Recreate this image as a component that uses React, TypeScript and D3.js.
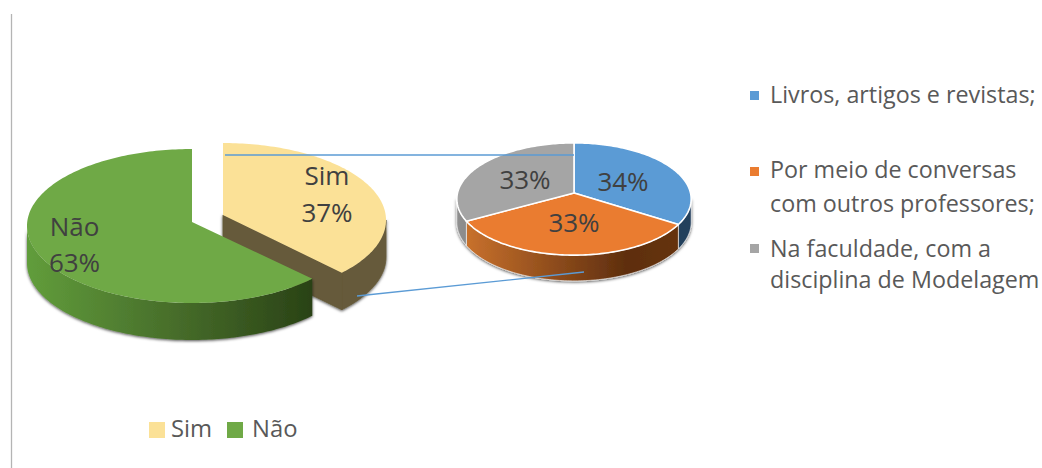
import React from "react";
import * as d3 from "d3";

// Main pie: did the teacher hear about the subject?
const mainCategories = ["Sim", "Não"];
const mainValues = [37, 63];
const mainColors = ["#fbe197", "#6fa946"];

// Breakdown of the "Sim" answers
const detailCategories = [
  "Livros, artigos e revistas;",
  "Por meio de conversas com outros professores;",
  "Na faculdade, com a disciplina de Modelagem",
];
const detailValues = [34, 33, 33];
const detailColors = ["#5b9bd5", "#ea7c30", "#a5a5a5"];

const detailLegendLines = [
  ["Livros, artigos e revistas;"],
  ["Por meio de conversas", "com outros professores;"],
  ["Na faculdade, com a", "disciplina de Modelagem"],
];

const FONT = "'Open Sans', 'Noto Sans', sans-serif";
const TAU = Math.PI * 2;

type Disc = { cx: number; cy: number; a: number; b: number; k: number; depth: number; apexY: number };
type P = [number, number];

// Perspective projection of a tilted disc: theta runs clockwise from 12 o'clock.
const project = (d: Disc, theta: number, drop = 0): P => {
  const u = Math.sin(theta);
  const v = -Math.cos(theta);
  const w = 1 - d.k * v;
  return [d.cx + (d.a * u) / w, d.cy + (d.b * v) / w + drop / w];
};

const sampleAngles = (from: number, to: number) => {
  const n = Math.max(2, Math.ceil(Math.abs(to - from) / 0.02));
  return d3.range(n + 1).map((i) => from + ((to - from) * i) / n);
};

const line = d3.line<P>();

const topPath = (d: Disc, a0: number, a1: number) =>
  line([[d.cx, d.apexY], ...sampleAngles(a0, a1).map((t) => project(d, t))]) + "Z";

// Outer rim of a slice, limited to the part that faces the viewer.
const wallPath = (d: Disc, a0: number, a1: number) => {
  const edge = Math.acos(-d.k);
  const from = Math.max(a0, edge);
  const to = Math.min(a1, TAU - edge);
  if (to <= from) return null;
  const angles = sampleAngles(from, to);
  return (
    line([
      ...angles.map((t) => project(d, t)),
      ...angles.slice().reverse().map((t) => project(d, t, d.depth)),
    ]) + "Z"
  );
};

const pieAngles = d3.pie<number>().sort(null);
const mainArcs = pieAngles(mainValues);
const detailArcs = pieAngles(detailValues);

const simDisc: Disc = { cx: 223, cy: 220, apexY: 215, a: 163, b: 77, k: 0, depth: 37 };
const naoDisc: Disc = { cx: 192, cy: 226, apexY: 222, a: 165, b: 77, k: 0, depth: 37 };
const detailDisc: Disc = { cx: 574, cy: 193, apexY: 193, a: 116.5, b: 55.5, k: 0.107, depth: 23 };

const simArc = mainArcs[0];
const naoArc = mainArcs[1];
const simTip = project(simDisc, simArc.endAngle);
const simTipLow = project(simDisc, simArc.endAngle, simDisc.depth);
const simApexLow: P = [simDisc.cx, simDisc.apexY + simDisc.depth];
const simBack = project(simDisc, 0, simDisc.depth);
const naoBack = project(naoDisc, TAU, naoDisc.depth);

const detailWallFill = ["#24405c", "url(#orangeWall)", "url(#grayWall)"];

const leaderLines: [P, P][] = [
  [[225, 155], [574, 155]],
  [[357, 296], [584, 272]],
];

const mainLabels = [
  { lines: ["Sim", "37%"], x: 327, y: [185, 222] },
  { lines: ["Não", "63%"], x: 74.5, y: [236, 272] },
];
const detailLabelPos: P[] = [
  [623, 191],
  [574, 232],
  [525, 189],
];

const legendBaselines = [[103], [178, 212], [257, 288]];
const legendSwatchY = [91, 167, 244];

export default function App() {
  return (
    <svg
      width={1042}
      height={468}
      viewBox="0 0 1042 468"
      style={{ position: "absolute", left: 0, top: 0, background: "#fff" }}
    >
      <defs>
        <filter id="pieShadow" x="-10%" y="-10%" width="120%" height="125%">
          <feDropShadow dx={0} dy={1} stdDeviation={1.5} floodColor="#000" floodOpacity={0.7} />
        </filter>
        <filter id="soft" x="-200%" y="-10%" width="500%" height="120%">
          <feGaussianBlur stdDeviation={0.8} />
        </filter>
        <linearGradient id="greenWall" gradientUnits="userSpaceOnUse" x1={27} x2={310} y1={0} y2={0}>
          <stop offset="0" stopColor="#619d3b" />
          <stop offset="0.5" stopColor="#486f2b" />
          <stop offset="1" stopColor="#2a4316" />
        </linearGradient>
        <linearGradient id="orangeWall" gradientUnits="userSpaceOnUse" x1={468} x2={680} y1={0} y2={0}>
          <stop offset="0" stopColor="#c7702c" />
          <stop offset="0.75" stopColor="#5e2e0e" />
          <stop offset="1" stopColor="#66330f" />
        </linearGradient>
        <linearGradient id="grayWall" gradientUnits="userSpaceOnUse" x1={457} x2={468} y1={0} y2={0}>
          <stop offset="0" stopColor="#8f8f8f" />
          <stop offset="1" stopColor="#8a8a8a" />
        </linearGradient>
      </defs>

      <line x1={11.5} x2={11.5} y1={14} y2={468} stroke="#b4b4b4" strokeWidth={1.3} />

      {/* Exploded "Sim" slice, behind the larger slice */}
      <line
        x1={simDisc.cx - 2}
        x2={simDisc.cx - 2}
        y1={simBack[1] - 6}
        y2={simApexLow[1]}
        stroke="#555"
        strokeWidth={2}
        filter="url(#soft)"
      />
      <g filter="url(#pieShadow)" stroke="#665a3a" strokeWidth={0.8} strokeLinejoin="round">
        <path d={line([[simDisc.cx, simDisc.apexY], simTip, simTipLow, simApexLow]) + "Z"} fill="#665a3a" />
        <path d={wallPath(simDisc, simArc.startAngle, simArc.endAngle) ?? ""} fill="#665a3a" />
      </g>
      <path d={topPath(simDisc, simArc.startAngle, simArc.endAngle)} fill={mainColors[0]} />

      {/* "Não" slice */}
      <line
        x1={naoDisc.cx + 2.5}
        x2={naoDisc.cx + 2.5}
        y1={naoBack[1] - 5}
        y2={naoDisc.apexY}
        stroke="#555"
        strokeWidth={2}
        filter="url(#soft)"
      />
      <path
        d={wallPath(naoDisc, naoArc.startAngle, naoArc.endAngle) ?? ""}
        fill="url(#greenWall)"
        filter="url(#pieShadow)"
      />
      <path d={topPath(naoDisc, naoArc.startAngle, naoArc.endAngle)} fill={mainColors[1]} />

      {/* Breakdown pie */}
      <g filter="url(#pieShadow)">
        {detailArcs.map((arc, i) => {
          const d = wallPath(detailDisc, arc.startAngle, arc.endAngle);
          return d ? <path key={i} d={d} fill={detailWallFill[i]} stroke="#fff" strokeWidth={0.6} /> : null;
        })}
      </g>
      {detailArcs.map((arc, i) => (
        <path
          key={i}
          d={topPath(detailDisc, arc.startAngle, arc.endAngle)}
          fill={detailColors[i]}
          stroke="#fff"
          strokeWidth={1.6}
          strokeLinejoin="round"
        />
      ))}

      {/* Leader lines joining the slice to the breakdown */}
      {leaderLines.map((pts, i) => (
        <path key={i} d={line(pts) ?? ""} stroke="#5b9bd5" strokeWidth={1.3} fill="none" />
      ))}

      {/* Data labels */}
      <g fontFamily={FONT} fontSize={26} fill="#404040" textAnchor="middle">
        {mainLabels.map((l) =>
          l.lines.map((t, j) => (
            <text key={t} x={l.x} y={l.y[j]}>
              {t}
            </text>
          ))
        )}
        {detailValues.map((v, i) => (
          <text key={i} x={detailLabelPos[i][0]} y={detailLabelPos[i][1]}>
            {v}%
          </text>
        ))}
      </g>

      {/* Legend of the breakdown */}
      <g fontFamily={FONT} fontSize={23.3} fill="#595959">
        {detailCategories.map((c, i) => (
          <g key={c}>
            <rect x={750} y={legendSwatchY[i]} width={9} height={9} fill={detailColors[i]} />
            {detailLegendLines[i].map((t, j) => (
              <text key={t} x={770} y={legendBaselines[i][j]}>
                {t}
              </text>
            ))}
          </g>
        ))}
      </g>

      {/* Legend of the main pie */}
      <g fontFamily={FONT} fontSize={23.8} fill="#595959">
        {mainCategories.map((c, i) => (
          <g key={c}>
            <rect x={[149, 227][i]} y={422} width={16} height={16} fill={mainColors[i]} />
            <text x={[171, 252][i]} y={437}>
              {c}
            </text>
          </g>
        ))}
      </g>
    </svg>
  );
}
